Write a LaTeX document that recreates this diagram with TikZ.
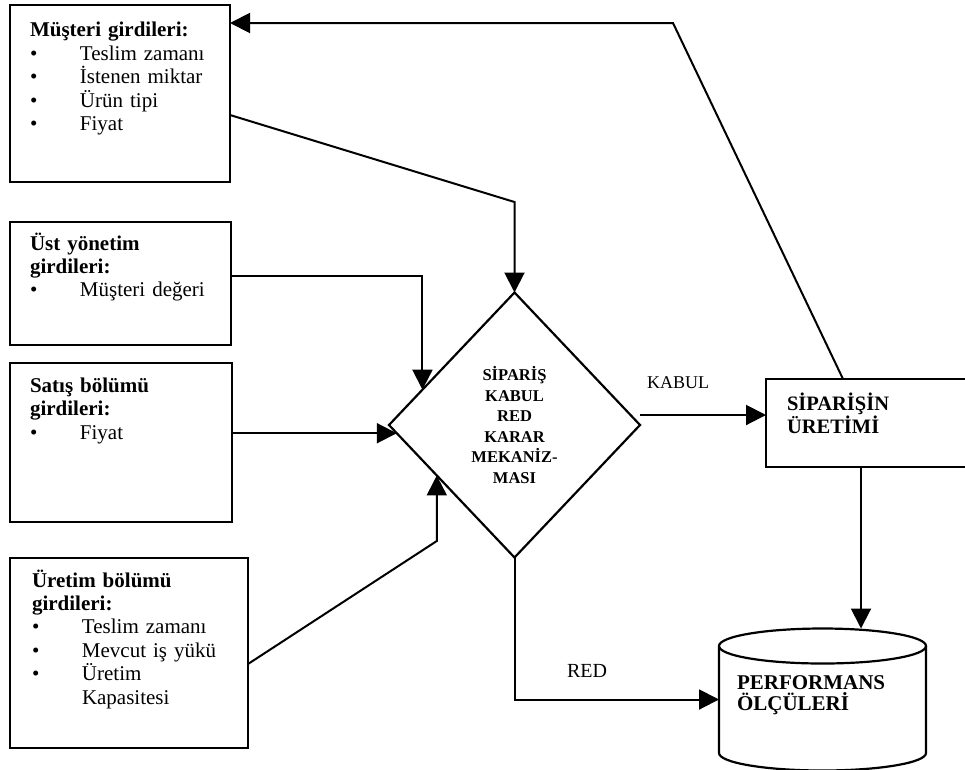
\documentclass[tikz,border=0pt]{standalone}
\usepackage{fontspec}
\setmainfont{Liberation Serif}
\usetikzlibrary{arrows.meta,shapes.geometric,calc}

% bullet followed by a fixed indent for list items
\newcommand{\itembul}{\makebox[50pt][l]{\textbullet}}

\begin{document}
\begin{tikzpicture}[x=1pt,y=-1pt,
  box/.style={draw, rectangle, line width=2.2pt, inner sep=0pt, outer sep=0pt},
  lbl/.style={anchor=base west, inner sep=0pt, outer sep=0pt, align=left, text width=210pt},
  boxtext/.style={lbl, font=\fontsize{21}{23.5}\selectfont},
  conn/.style={line width=2pt, line join=miter},
  arr/.style={conn, -{Triangle[length=20pt,width=20pt]}},
]
\useasboundingbox (0,0) rectangle (965,769);
\clip (0,0) rectangle (965,769);

% input boxes
\node[box, minimum width=220pt, minimum height=177pt] (b1) at (120,93.5) {};
\node[box, minimum width=221pt, minimum height=123pt] (b2) at (120.5,283.5) {};
\node[box, minimum width=222pt, minimum height=159pt] (b3) at (121,442.5) {};
\node[box, minimum width=238pt, minimum height=190pt] (b4) at (129,653) {};

\node[boxtext] (t1) at (30,36.5) {\textbf{Müşteri girdileri:}\\
  \itembul Teslim zamanı\\
  \itembul İstenen miktar\\
  \itembul Ürün tipi\\
  \itembul Fiyat};
\node[boxtext, font=\fontsize{21}{23}\selectfont] (t2) at (30,250) {\textbf{Üst yönetim}\\
  \textbf{girdileri:}\\
  \itembul Müşteri değeri};
\node[boxtext] (t3) at (30,392) {\textbf{Satış bölümü}\\
  \textbf{girdileri:}\\
  \itembul Fiyat};
\node[boxtext, font=\fontsize{21}{23.4}\selectfont] (t4) at (32,587) {\textbf{Üretim bölümü}\\
  \textbf{girdileri:}\\
  \itembul Teslim zamanı\\
  \itembul Mevcut iş yükü\\
  \itembul Üretim\\
  \hspace*{50pt}Kapasitesi};

% decision diamond
\node[diamond, draw, line width=2.2pt, inner sep=0pt, outer sep=0pt,
      minimum width=251pt, minimum height=265pt, align=center,
      font=\bfseries\fontsize{16.5}{20.6}\selectfont] (d) at (514.5,425)
  {SİPARİŞ\\KABUL\\RED\\KARAR\\MEKANİZ-\\MASI};

% production box (runs past the right edge)
\node[box, minimum width=224pt, minimum height=88pt] (sb) at (878,423) {};
\node[lbl, font=\bfseries\fontsize{20.5}{23}\selectfont] (sbt) at (787,410)
  {SİPARİŞİN\\ÜRETİMİ};

% performance store (cylinder)
\node[minimum width=207pt, minimum height=142pt, inner sep=0pt, outer sep=0pt] (cyl) at (822.5,699.5) {};
\draw[line width=2.2pt] (822.5,646) ellipse [x radius=103.5pt, y radius=17.5pt];
\draw[line width=2.2pt] (cyl.west |- 0,646) -- (cyl.west |- 0,753)
  arc[start angle=180, end angle=360, x radius=103.5pt, y radius=17.5pt]
  -- (cyl.east |- 0,646);
\node[lbl, font=\bfseries\fontsize{21}{21.5}\selectfont] (cylt) at (737,689)
  {PERFORMANS\\ÖLÇÜLERİ};

% edge labels
\node[lbl, font=\fontsize{18}{20}\selectfont] (kabul) at (647,388) {KABUL};
\node[lbl, font=\fontsize{20}{22}\selectfont] (red) at (567,677) {RED};

% bend points
\coordinate (k0) at (673,23);
\coordinate (k1) at (0,202);
\coordinate (k4) at (0,541);

% connectors
\draw[arr] ([xshift=77pt]sb.north west) -- (k0) -- (k0 -| b1.east);
\draw[arr] ([yshift=-21.5pt]b1.east) -- (d.north |- k1) -- (d.north);
\draw[arr] ([yshift=7.5pt]b2.east) -| (d.159);
\draw[arr] (b3.east |- d.184) -- (d.184);
\draw[arr] ([yshift=-11pt]b4.east) -- (d.213 |- k4) -- (d.213);
\draw[arr] ([yshift=10pt]d.east) -- ([yshift=10pt]d.east -| sb.west);
\draw[arr] ([xshift=95pt]sb.south west) -- ([xshift=95pt]sb.south west |- cyl.north);
\draw[arr] (d.south) |- (cyl.west);
\end{tikzpicture}
\end{document}
